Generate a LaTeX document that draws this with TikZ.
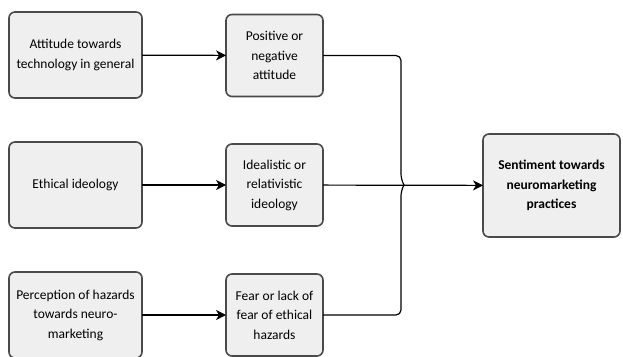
\documentclass[tikz,border=0pt]{standalone}
\usepackage{fontspec}
\setmainfont{Carlito}
\usetikzlibrary{arrows.meta}
\definecolor{boxgray}{HTML}{EFEFEF}
\definecolor{edgegray}{HTML}{4A4A4A}

\begin{document}
\begin{tikzpicture}[x=1pt, y=-1pt,
  every node/.style={outer sep=0pt, align=center, font=\fontsize{13.5}{19.5}\selectfont},
  box/.style={draw=edgegray, fill=boxgray, line width=1.6pt, rounded corners=6pt},
  leftbox/.style={box, minimum width=133pt, minimum height=86pt},
  midbox/.style={box, minimum width=97pt, minimum height=82pt},
  wire/.style={draw=black, line width=1.2pt},
  arrow/.style={wire, -{Stealth[length=10pt, width=10pt, inset=3pt]}}]
\useasboundingbox (0,0) rectangle (623,356);

\node[leftbox] (attitude) at (75.5,55) {Attitude towards\\technology in general};
\node[leftbox] (ethics) at (75.5,185) {Ethical ideology};
\node[leftbox] (hazards) at (75.5,315) {Perception of hazards\\towards neuro-\\marketing};

\node[midbox] (posneg) at (274.5,55.5) {Positive or\\negative\\attitude};
\node[midbox] (ideal) at (274.5,185) {Idealistic or\\relativistic\\ideology};
\node[midbox] (fear) at (274.5,315) {Fear or lack of\\fear of ethical\\hazards};

\node[box, minimum width=137pt, minimum height=103pt, font=\fontsize{13.5}{19.5}\selectfont\bfseries] (sentiment) at (551.5,185.5) {Sentiment towards\\neuromarketing\\practices};

\draw[arrow] (attitude) -- (posneg);
\draw[arrow] (ethics) -- (ideal);
\draw[arrow] (hazards) -- (fear);

\coordinate (join) at (404,185);
\draw[wire, rounded corners=5pt] (posneg.east) -- (401,55.5) -- (401,179) -- (join);
\draw[wire, rounded corners=5pt] (fear.east) -- (401,315) -- (401,191) -- (join);
\draw[arrow] (ideal) -- (sentiment);
\end{tikzpicture}
\end{document}
